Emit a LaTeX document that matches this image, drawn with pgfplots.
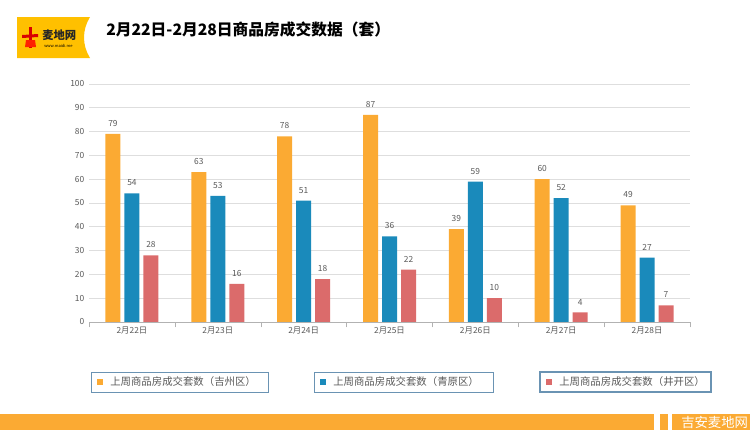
\documentclass[border=0pt]{standalone}
\usepackage{fontspec}
\setmainfont{Noto Sans CJK SC}
\usepackage{pgfplots}
\pgfplotsset{compat=1.18}

\definecolor{corange}{HTML}{FBAA33}
\definecolor{cblue}{HTML}{1A8ABB}
\definecolor{cred}{HTML}{DB6B6B}
\definecolor{clogo}{HTML}{FFC000}
\definecolor{txtgray}{HTML}{595959}
\definecolor{legbox}{HTML}{6A93B3}

\pgfplotstableread{
x  jz  qy  jk
0  79  54  28
1  63  53  16
2  78  51  18
3  87  36  22
4  39  59  10
5  60  52  4
6  49  27  7
}\sales

\begin{document}
\begin{tikzpicture}
\begin{scope}[x=0.75pt,y=-0.75pt]
\path[use as bounding box] (0,0) rectangle (750,432);
% logo
\fill[clogo] (17,17) -- (90,17) .. controls (82,30) and (82,45) .. (90,58) -- (17,58) -- cycle;
\fill[red!85!black] (29,27) rectangle (32,48);
\fill[red!85!black] (22,35) -- (38,34) -- (38,37) -- (22,38) -- cycle;
\fill[red!75!orange] (26,40) -- (35,40) -- (36,47) -- (25,47) -- cycle;
\node[anchor=west,inner sep=0pt,text=black!85,font=\fontsize{8.5}{9}\selectfont\bfseries] at (42,35) {麦地网};
\node[anchor=west,inner sep=0pt,font=\fontsize{3}{3}\selectfont] at (44,46) {www.maidi.me};
% title
\node[anchor=west,inner sep=0pt,font=\fontsize{11.8}{12}\selectfont\bfseries] at (106,30) {2月22日-2月28日商品房成交数据（套）};
% legend boxes
\foreach \xa/\xb/\col/\lab/\lw in {91/268/corange/吉州区/0.6pt, 314/493/cblue/青原区/0.6pt, 540/711/cred/井开区/1pt}{
  \draw[legbox,line width=\lw] (\xa,372) rectangle (\xb,392);
  \fill[\col] (\xa+6,379) rectangle (\xa+12,385);
  \node[anchor=west,inner sep=0pt,text=txtgray,font=\fontsize{7.8}{8}\selectfont] at (\xa+19,382) {上周商品房成交套数（\lab）};
}
% bottom band
\fill[corange] (0,414) rectangle (750,430);
\fill[white] (654,414) rectangle (660,430);
\fill[white] (668,414) rectangle (672,430);
\node[anchor=west,inner sep=0pt,text=white,font=\fontsize{10}{11}\selectfont] at (681,422) {吉安麦地网};
\end{scope}

\begin{axis}[
    at={(66.75pt,-241.5pt)}, anchor=south west,
    scale only axis,
    width=450.75pt, height=178.5pt,
    xmin=-0.5, xmax=6.5,
    ymin=0, ymax=100,
    ytick={0,10,...,100},
    xtick={0,...,6},
    xticklabels={2月22日,2月23日,2月24日,2月25日,2月26日,2月27日,2月28日},
    major tick length=0pt,
    extra x ticks={-0.5,0.5,...,6.5},
    extra x tick labels={},
    extra x tick style={major tick length=4pt, tick align=outside, xtick pos=bottom,
        tick style={draw=black!30}, grid=none},
    axis line style={draw=none},
    ymajorgrids,
    grid style={draw=black!13, line width=0.6pt},
    tick label style={text=txtgray, font=\fontsize{6.3}{7}\selectfont},
    /pgf/number format/assume math mode=true,
    ybar=3pt,
    bar width=11.25pt,
    nodes near coords,
    every node near coord/.append style={text=txtgray, font=\fontsize{6.3}{7}\selectfont, yshift=2pt},
    clip=false,
]
\addplot[fill=corange, draw=none] table[x=x, y=jz] {\sales};
\addplot[fill=cblue, draw=none] table[x=x, y=qy] {\sales};
\addplot[fill=cred, draw=none] table[x=x, y=jk] {\sales};
\draw[black!30, line width=0.6pt] (axis cs:-0.5,0) -- (axis cs:6.5,0);
\end{axis}
\end{tikzpicture}
\end{document}
